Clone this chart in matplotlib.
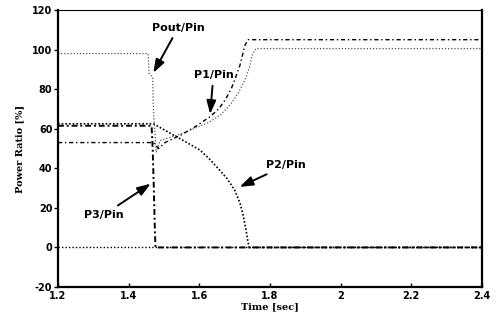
import matplotlib
matplotlib.use("Agg")
import matplotlib.pyplot as plt

plt.rcParams["axes.unicode_minus"] = False

# ---- data ----
t_pout = [1.2, 1.455, 1.458, 1.468, 1.470, 1.478, 1.489, 1.55, 1.625, 1.66, 1.687, 1.71, 1.729, 1.742, 1.749, 1.76, 2.4]
v_pout = [98, 98, 88, 86, 70, 48, 54, 57.5, 63, 67, 72, 78, 84.6, 91, 97, 100.5, 100.5]

t_p1 = [1.2, 1.47, 1.485, 1.503, 1.55, 1.588, 1.63, 1.655, 1.673, 1.69, 1.70, 1.715, 1.729, 1.738, 2.4]
v_p1 = [53, 53, 50, 53, 57, 61, 66, 70, 74.5, 80, 84.6, 92, 102, 105, 105]

t_p2 = [1.2, 1.47, 1.517, 1.56, 1.602, 1.63, 1.658, 1.68, 1.70, 1.715, 1.724, 1.732, 1.738, 1.742, 2.4]
v_p2 = [62.5, 62.5, 57.8, 53.5, 49.2, 44.5, 39, 34.5, 29, 22.5, 16.4, 9, 2.5, 0, 0]

t_p3 = [1.2, 1.465, 1.468, 1.471, 1.474, 1.476, 1.48, 2.4]
v_p3 = [61.5, 61.5, 50, 32, 10, 0, 0, 0]

t_base = [1.2, 2.4]
v_base = [0, 0]

x_ticks = [1.2, 1.4, 1.6, 1.8, 2.0, 2.2, 2.4]
x_labels = ["1.2", "1.4", "1.6", "1.8", "2", "2.2", "2.4"]
y_ticks = [-20, 0, 20, 40, 60, 80, 100, 120]

fig = plt.figure(figsize=(5.02, 3.18), dpi=100)
ax = fig.add_axes([0.1155, 0.0975, 0.8445, 0.871])

ax.plot(t_base, v_base, color="black", lw=1.0, ls=(0, (1, 1.5)))
ax.plot(t_pout, v_pout, color="#555555", lw=0.9, ls=(0, (1, 1.5)))
ax.plot(t_p1, v_p1, color="black", lw=1.0, ls=(0, (3, 2, 1, 2)))
ax.plot(t_p2, v_p2, color="black", lw=1.2, ls=(0, (1, 1.2)))
ax.plot(t_p3, v_p3, color="black", lw=1.4, ls=(0, (3, 1.5, 1, 1.5)))

ax.set_xlim(1.2, 2.4)
ax.set_ylim(-20, 120)
ax.set_xticks(x_ticks)
ax.set_xticklabels(x_labels)
ax.set_yticks(y_ticks)
for lab in ax.get_xticklabels() + ax.get_yticklabels():
    lab.set_fontweight("bold")
    lab.set_fontsize(7)
ax.tick_params(axis="x", direction="in", length=3, width=1, pad=3)
ax.tick_params(axis="y", direction="out", length=3, width=1, pad=1)

for s in ["left", "bottom", "right"]:
    ax.spines[s].set_linewidth(1.6)
ax.spines["top"].set_linewidth(0.8)

ax.set_xlabel("Time [sec]", fontsize=7, fontweight="bold", family="DejaVu Serif", labelpad=1)
ax.set_ylabel("Power Ratio [%]", fontsize=7, fontweight="bold", family="DejaVu Serif", labelpad=6)

akw = dict(fontsize=8, fontweight="bold", family="DejaVu Sans")
arr = dict(arrowstyle="-|>,head_length=1.0,head_width=0.35", color="black", lw=1.4)
ax.annotate("Pout/Pin", xy=(1.466, 87), xytext=(1.54, 111), ha="center", va="center", arrowprops=arr, **akw)
ax.annotate("P1/Pin", xy=(1.630, 66), xytext=(1.64, 87), ha="center", va="center", arrowprops=arr, **akw)
ax.annotate("P2/Pin", xy=(1.707, 30), xytext=(1.845, 41.5), ha="center", va="center", arrowprops=arr, **akw)
ax.annotate("P3/Pin", xy=(1.469, 33), xytext=(1.33, 16.5), ha="center", va="center", arrowprops=arr, **akw)

fig.savefig("out.png", dpi=100)
